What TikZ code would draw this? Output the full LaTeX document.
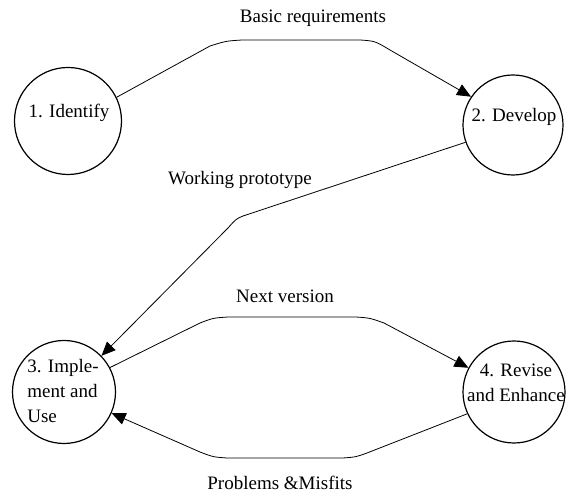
\documentclass[tikz,border=0pt]{standalone}
\usepackage{fontspec}
\setmainfont{Liberation Serif}
\usetikzlibrary{arrows.meta}
\begin{document}
\begin{tikzpicture}[x=1pt,y=-1pt,
  stage/.style={draw, circle, line width=1.2pt, minimum size=#1, inner sep=0pt},
  lbl/.style={font=\fontsize{19}{25}\selectfont, inner sep=0pt},
  conn/.style={line width=0.8pt, -{Triangle[length=14pt,width=12pt]}}]
\useasboundingbox (0,0) rectangle (566,494);
\node[stage=107pt] (c1) at (68,121) {};
\node[stage=100pt] (c2) at (513,125) {};
\node[stage=103pt] (c3) at (64,392) {};
\node[stage=102pt] (c4) at (514,392) {};
\node[lbl] (t1) at (69,113) {1. Identify};
\node[lbl] (t2) at (514,117) {2. Develop};
\node[lbl, align=left] (t3) at (63,391) {3. Imple-\\ment and\\Use};
\node[lbl, align=center] (t4) at (516,383) {4. Revise\\and Enhance};
\node[lbl] (l1) at (313,18) {Basic requirements};
\node[lbl] (l2) at (240,180) {Working prototype};
\node[lbl] (l3) at (285,296) {Next version};
\node[lbl] (l4) at (280,483) {Problems \&Misfits};
\draw[conn] (c1.26) -- (210,46) .. controls (226,41) .. (242,40) -- (360,40) .. controls (375,41) .. (390,50) -- (c2.146);
\draw[conn] (c2.200) -- (243,216) .. controls (236,219) .. (228,228) -- (c3.44);
\draw[conn] (c3.28) -- (200,323) .. controls (213,318) .. (228,317) -- (356,317) .. controls (370,318) .. (384,323) -- (c4.152);
\draw[conn] (c4.205) -- (367,453) .. controls (356,457) .. (343,458) -- (227,458) .. controls (213,457) .. (200,452) -- (c3.336);
\end{tikzpicture}
\end{document}
